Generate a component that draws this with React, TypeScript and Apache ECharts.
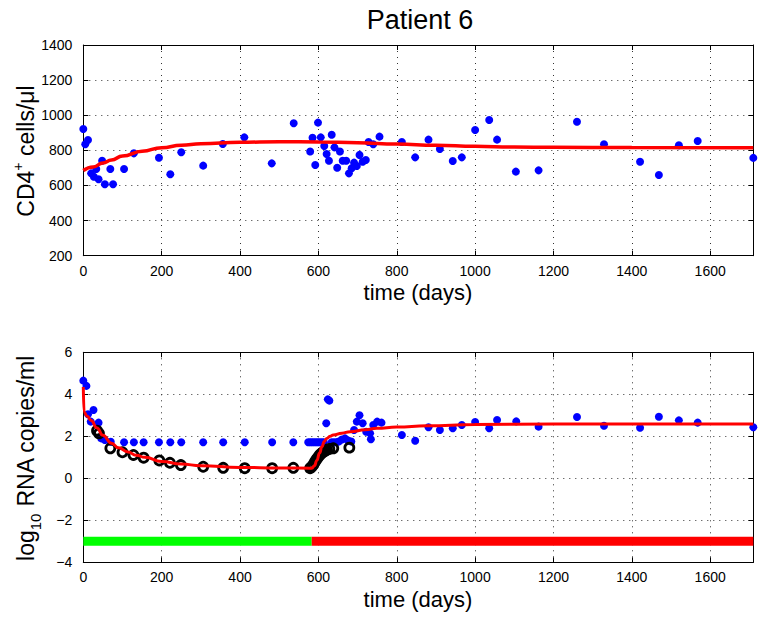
import React, { useEffect, useRef } from "react";
import * as echarts from "echarts";

// ---- CD4+ counts (top panel) ----
const cd4Days = [0, 5, 12, 20, 27, 33, 39, 48, 55, 69, 76, 104, 129, 193, 222, 250, 306, 356, 411, 481, 537, 579, 585, 592, 599, 606, 615, 621, 627, 634, 641, 648, 655, 662, 671, 678, 685, 691, 698, 705, 713, 721, 728, 740, 756, 813, 847, 881, 910, 943, 966, 1000, 1036, 1056, 1104, 1162, 1260, 1329, 1421, 1469, 1520, 1568, 1710];
const cd4Values = [922, 835, 859, 669, 650, 694, 635, 741, 607, 694, 607, 694, 783, 758, 664, 789, 713, 836, 874, 726, 954, 793, 872, 717, 958, 874, 825, 779, 741, 889, 817, 701, 793, 741, 741, 669, 698, 730, 711, 774, 735, 745, 848, 835, 878, 848, 760, 861, 808, 739, 760, 916, 973, 861, 679, 686, 963, 835, 735, 660, 829, 853, 757];

// model fit for CD4+
const cd4FitDays = [0, 25, 50, 72, 100, 150, 200, 250, 300, 400, 500, 600, 700, 800, 900, 1000, 1100, 1200, 1400, 1710];
const cd4FitValues = [685, 705, 728, 745, 768, 795, 815, 829, 838, 846, 849, 848, 843, 836, 829, 823, 819, 817, 816, 815];

// ---- viral load (bottom panel), log10 copies/ml ----
const rnaDays = [0, 8, 12, 19, 26, 39, 46, 55, 70, 104, 129, 154, 193, 222, 250, 306, 357, 412, 482, 536, 574, 579, 584, 589, 594, 599, 604, 609, 614, 620, 624, 628, 634, 640, 646, 652, 660, 668, 676, 684, 691, 698, 705, 713, 722, 732, 734, 740, 750, 761, 813, 847, 881, 910, 943, 966, 1000, 1036, 1056, 1105, 1162, 1260, 1329, 1421, 1469, 1520, 1568, 1710];
const rnaValues = [4.65, 4.4, 3.05, 2.7, 3.25, 2.65, 1.9, 1.82, 1.74, 1.72, 1.72, 1.72, 1.72, 1.72, 1.72, 1.72, 1.72, 1.72, 1.72, 1.72, 1.72, 1.72, 1.72, 1.72, 1.72, 1.72, 1.72, 1.72, 1.72, 2.62, 3.76, 3.7, 1.72, 1.72, 1.72, 1.75, 1.85, 1.9, 1.8, 1.75, 2.3, 2.7, 3.0, 2.62, 2.22, 2.14, 1.86, 2.54, 2.7, 2.65, 2.06, 1.79, 2.43, 2.3, 2.38, 2.54, 2.68, 2.38, 2.78, 2.71, 2.46, 2.92, 2.5, 2.41, 2.93, 2.76, 2.65, 2.43];

// simulated infectious virus (open circles)
const virusDays = [35, 40, 69, 100, 128, 154, 194, 221, 249, 306, 357, 412, 482, 536, 579, 583, 587, 591, 595, 599, 603, 607, 612, 617, 622, 628, 638, 679];
const virusValues = [2.27, 2.14, 1.43, 1.24, 1.11, 0.98, 0.85, 0.74, 0.63, 0.55, 0.5, 0.48, 0.48, 0.5, 0.48, 0.55, 0.65, 0.78, 0.9, 1.0, 1.1, 1.18, 1.25, 1.3, 1.36, 1.4, 1.43, 1.46];

// model fit for viral load
const rnaFitDays = [0, 2, 10, 20, 35, 50, 72, 90, 114, 135, 157, 200, 250, 300, 400, 500, 583, 590, 596, 603, 609, 615, 621, 630, 638, 660, 681, 720, 749, 800, 877, 1000, 1200, 1400, 1710];
const rnaFitValues = [4.35, 3.15, 2.95, 2.75, 2.4, 2.05, 1.67, 1.45, 1.25, 1.1, 1.0, 0.8, 0.68, 0.6, 0.52, 0.49, 0.48, 0.6, 0.85, 1.2, 1.5, 1.75, 1.9, 2.0, 2.06, 2.15, 2.22, 2.31, 2.38, 2.44, 2.5, 2.56, 2.58, 2.59, 2.59];

// therapy periods (on / off)
const therapyOn = [0, 583];
const therapyOff = [583, 1710];
const therapyLevel = -3;

const X_MAX = 1710;
const FONT = "'Liberation Sans', Arial, Helvetica, sans-serif";

const zip = (xs: number[], ys: number[]) => xs.map((x, i) => [x, ys[i]]);

const gridStyle = { color: "#333", width: 1, type: [1, 5] as number[] };

function axesFor(gridIndex: number, yMin: number, yMax: number, yInterval: number) {
  const minus = (v: number) => (v < 0 ? "\u2212" + Math.abs(v) : String(v));
  const xMain = {
    type: "value",
    gridIndex,
    position: "bottom",
    min: 0,
    max: X_MAX,
    interval: 200,
    axisLine: { show: true, onZero: false, lineStyle: { color: "#000", width: 1 } },
    axisTick: { show: true, inside: true, length: 5, lineStyle: { color: "#000" } },
    axisLabel: {
      show: true,
      margin: 8,
      color: "#000",
      fontSize: 14,
      fontFamily: FONT,
      showMaxLabel: false,
      formatter: (v: number) => (v % 200 === 0 ? String(v) : ""),
    },
    splitLine: { show: true, lineStyle: gridStyle },
  };
  const xTop = {
    type: "value",
    gridIndex,
    position: "top",
    min: 0,
    max: X_MAX,
    interval: 200,
    axisLine: { show: true, onZero: false, lineStyle: { color: "#000", width: 1 } },
    axisTick: { show: true, inside: true, length: 5, lineStyle: { color: "#000" } },
    axisLabel: { show: false },
    splitLine: { show: false },
  };
  const yMain = {
    type: "value",
    gridIndex,
    position: "left",
    min: yMin,
    max: yMax,
    interval: yInterval,
    axisLine: { show: true, onZero: false, lineStyle: { color: "#000", width: 1 } },
    axisTick: { show: true, inside: true, length: 5, lineStyle: { color: "#000" } },
    axisLabel: { show: true, margin: 11, color: "#000", fontSize: 14, fontFamily: FONT, formatter: minus },
    splitLine: { show: true, lineStyle: gridStyle },
  };
  const yRight = {
    type: "value",
    gridIndex,
    position: "right",
    min: yMin,
    max: yMax,
    interval: yInterval,
    axisLine: { show: true, onZero: false, lineStyle: { color: "#000", width: 1 } },
    axisTick: { show: true, inside: true, length: 5, lineStyle: { color: "#000" } },
    axisLabel: { show: false },
    splitLine: { show: false },
  };
  return { x: [xMain, xTop], y: [yMain, yRight] };
}

export default function App() {
  const ref = useRef<HTMLDivElement>(null);

  useEffect(() => {
    if (!ref.current) return;
    const chart = echarts.init(ref.current, undefined, { renderer: "svg" });
    const top = axesFor(0, 200, 1400, 200);
    const bottom = axesFor(1, -4, 6, 2);

    const option = {
      animation: false,
      backgroundColor: "#fff",
      grid: [
        { left: 83.3, top: 45, width: 670, height: 210.7, containLabel: false },
        { left: 83.3, top: 352.3, width: 670, height: 210, containLabel: false },
      ],
      xAxis: [...top.x, ...bottom.x],
      yAxis: [...top.y, ...bottom.y],
      graphic: [
        {
          type: "text",
          x: 420,
          y: 20,
          style: { text: "Patient 6", fontSize: 27, fontFamily: FONT, fill: "#000", align: "center", verticalAlign: "middle" },
        },
        {
          type: "text",
          x: 418,
          y: 292,
          style: { text: "time (days)", fontSize: 22, fontFamily: FONT, fill: "#000", align: "center", verticalAlign: "middle" },
        },
        {
          type: "text",
          x: 418,
          y: 599,
          style: { text: "time (days)", fontSize: 22, fontFamily: FONT, fill: "#000", align: "center", verticalAlign: "middle" },
        },
        {
          type: "text",
          x: 26,
          y: 151,
          rotation: Math.PI / 2,
          style: {
            text: "{m|CD4}{sup|+}{m| cells/\u03bcl}",
            fontFamily: FONT,
            fill: "#000",
            align: "center",
            verticalAlign: "middle",
            rich: {
              m: { fontSize: 23, lineHeight: 30, fontFamily: FONT, fill: "#000" },
              sup: { fontSize: 14, lineHeight: 14, fontFamily: FONT, fill: "#000", verticalAlign: "top" },
            },
          },
        },
        {
          type: "text",
          x: 26,
          y: 458,
          rotation: Math.PI / 2,
          style: {
            text: "{m|log}{sub|10}{m| RNA copies/ml}",
            fontFamily: FONT,
            fill: "#000",
            align: "center",
            verticalAlign: "middle",
            rich: {
              m: { fontSize: 23, lineHeight: 34, fontFamily: FONT, fill: "#000" },
              sub: { fontSize: 15, lineHeight: 14, fontFamily: FONT, fill: "#000", verticalAlign: "bottom" },
            },
          },
        },
      ],
      series: [
        {
          type: "scatter",
          xAxisIndex: 0,
          yAxisIndex: 0,
          data: zip(cd4Days, cd4Values),
          symbol: "circle",
          symbolSize: 8,
          clip: false,
          itemStyle: { color: "#0000ff", opacity: 1 },
        },
        {
          type: "line",
          xAxisIndex: 0,
          yAxisIndex: 0,
          data: zip(cd4FitDays, cd4FitValues),
          showSymbol: false,
          smooth: true,
          smoothMonotone: "x",
          lineStyle: { color: "#ff0000", width: 3.5 },
        },
        {
          type: "line",
          xAxisIndex: 2,
          yAxisIndex: 2,
          data: therapyOn.map((d) => [d, therapyLevel]),
          showSymbol: false,
          lineStyle: { color: "#00ff00", width: 9, cap: "butt" },
        },
        {
          type: "line",
          xAxisIndex: 2,
          yAxisIndex: 2,
          data: therapyOff.map((d) => [d, therapyLevel]),
          showSymbol: false,
          lineStyle: { color: "#ff0000", width: 9, cap: "butt" },
        },
        {
          type: "scatter",
          xAxisIndex: 2,
          yAxisIndex: 2,
          data: zip(rnaDays, rnaValues),
          symbol: "circle",
          symbolSize: 8,
          clip: false,
          itemStyle: { color: "#0000ff", opacity: 1 },
        },
        {
          type: "scatter",
          xAxisIndex: 2,
          yAxisIndex: 2,
          data: zip(virusDays, virusValues),
          symbol: "circle",
          symbolSize: 9,
          clip: false,
          itemStyle: { color: "rgba(0,0,0,0)", borderColor: "#000", borderWidth: 2.8, opacity: 1 },
        },
        {
          type: "line",
          xAxisIndex: 2,
          yAxisIndex: 2,
          data: zip(rnaFitDays, rnaFitValues),
          showSymbol: false,
          smooth: true,
          smoothMonotone: "x",
          lineStyle: { color: "#ff0000", width: 3 },
        },
      ],
    };

    chart.setOption(option as any);
    return () => chart.dispose();
  }, []);

  return (
    <div
      ref={ref}
      style={{ position: "fixed", left: 0, top: 0, width: 761, height: 618, background: "#fff" }}
    />
  );
}
